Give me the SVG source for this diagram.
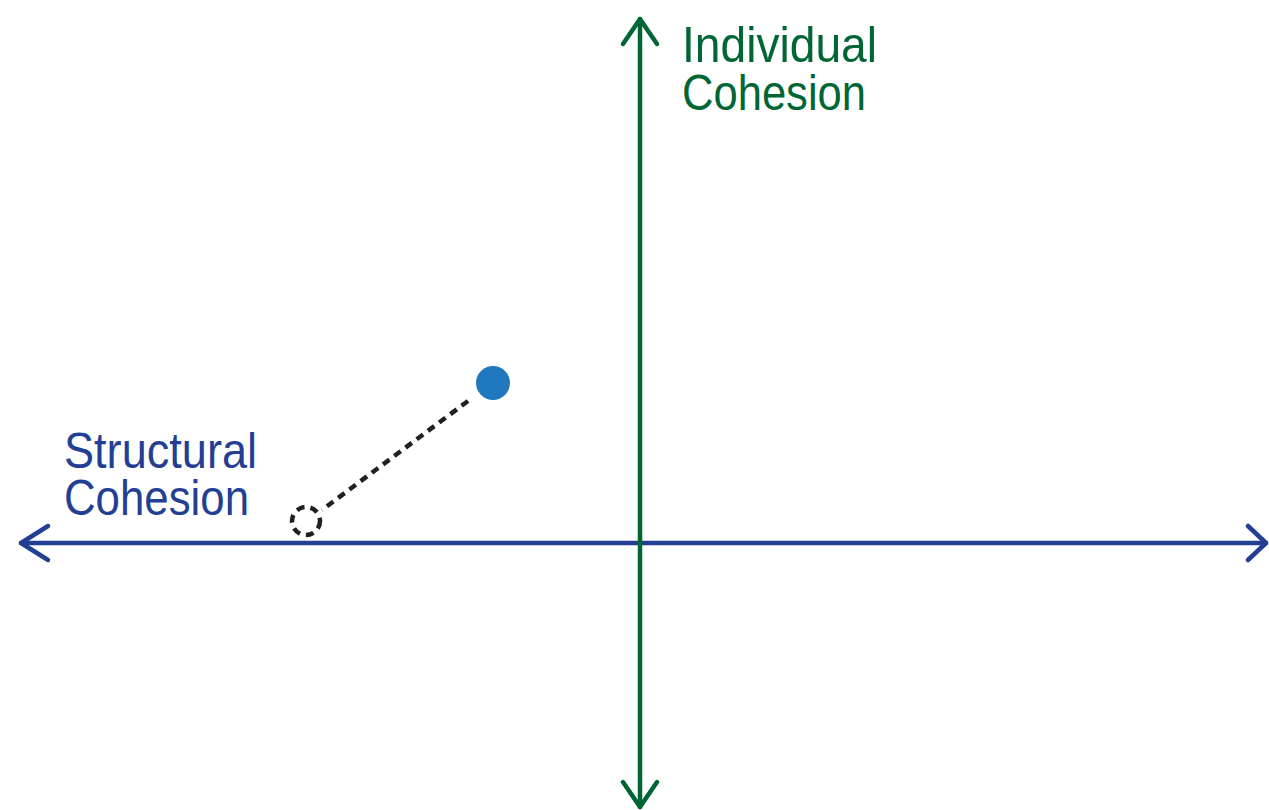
<svg xmlns="http://www.w3.org/2000/svg" width="1269" height="810" viewBox="0 0 1269 810">
<style>
.ax{fill:none;stroke-width:4.5;stroke-linecap:round;stroke-linejoin:round}
.g{stroke:#006633}
.b{stroke:#233f94}
.lbl{font-family:"Liberation Sans","Open Sans",sans-serif;font-size:50px}
.dash{fill:none;stroke:#231f20;stroke-width:4.5;stroke-dasharray:8 6}
</style>
<rect width="1269" height="810" fill="#fff"/>
<g id="connectors">
<g id="x-axis" class="ax b">
<line x1="21" y1="543" x2="1266" y2="543"/>
<polyline points="48,526 21,543 48,560"/>
<polyline points="1248,526 1266,543 1248,560"/>
</g>
<g id="y-axis" class="ax g">
<line x1="640" y1="19" x2="640" y2="807"/>
<polyline points="623,44 640,19 657,44"/>
<polyline points="623,782 640,807 657,782"/>
</g>
<line id="shift" class="dash" x1="468" y1="401" x2="322" y2="510"/>
</g>
<g id="label-individual" class="lbl" fill="#006633">
<text x="682" y="62" textLength="195" lengthAdjust="spacingAndGlyphs">Individual</text>
<text x="682" y="110" textLength="184" lengthAdjust="spacingAndGlyphs">Cohesion</text>
</g>
<g id="label-structural" class="lbl" fill="#233f94">
<text x="64" y="468" textLength="193" lengthAdjust="spacingAndGlyphs">Structural</text>
<text x="64" y="515" textLength="185" lengthAdjust="spacingAndGlyphs">Cohesion</text>
</g>
<g id="point-current">
<circle cx="493" cy="383" r="17" fill="#1f78be"/>
</g>
<g id="point-projected">
<circle cx="306" cy="521" r="14" class="dash" stroke-dasharray="7 5"/>
</g>
</svg>
